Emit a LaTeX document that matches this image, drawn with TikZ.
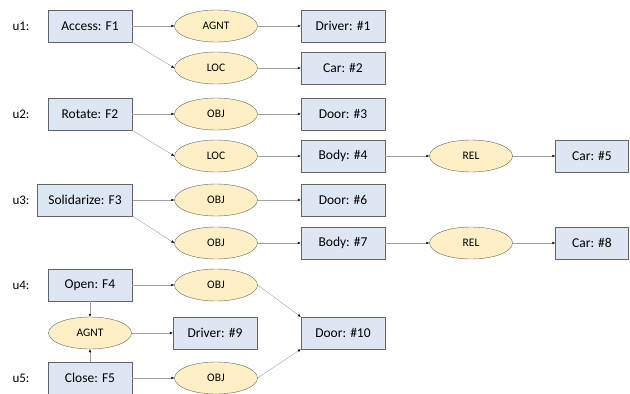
\documentclass[tikz,border=0pt]{standalone}
\usepackage{fontspec}
\setmainfont{Carlito}
\usetikzlibrary{arrows.meta,shapes.geometric}
\definecolor{boxblue}{RGB}{221,231,244}
\definecolor{relyellow}{RGB}{254,240,196}
\definecolor{rim}{RGB}{100,100,100}
\definecolor{wire}{RGB}{160,160,160}

\begin{document}
\begin{tikzpicture}[x=1pt,y=-1pt,
  concept/.style={draw=rim,fill=boxblue,minimum width=84pt,minimum height=32pt,
    inner sep=0pt,font=\fontsize{13.5}{15}\selectfont},
  rel/.style={ellipse,draw=rim,fill=relyellow,minimum width=83pt,minimum height=32pt,
    inner sep=0pt,font=\fontsize{11.5}{13}\selectfont},
  link/.style={draw=wire,-{Latex[length=3pt,width=2.6pt,color=black]}},
  tag/.style={font=\fontsize{13}{15}\selectfont}]
  \useasboundingbox (0,0) rectangle (630,394);
  % utterance labels
  \foreach \u/\y in {1/26,2/114,3/200,4/285,5/378} { \node[tag] (u\u) at (21,\y) {u\u:}; }
  % u1
  \node[concept] (f1) at (90,26) {Access: F1};
  \node[rel] (r1) at (216,26) {AGNT};
  \node[rel] (r2) at (216,68) {LOC};
  \node[concept] (c1) at (343,26) {Driver: \#1};
  \node[concept] (c2) at (343,68) {Car: \#2};
  % u2
  \node[concept] (f2) at (90,114) {Rotate: F2};
  \node[rel] (r3) at (216,114) {OBJ};
  \node[rel] (r4) at (216,156) {LOC};
  \node[concept] (c3) at (343,114) {Door: \#3};
  \node[concept] (c4) at (343,156) {Body: \#4};
  \node[rel] (r5) at (471,156) {REL};
  \node[concept,minimum width=73pt] (c5) at (592,156) {Car: \#5};
  % u3
  \node[concept,minimum width=95pt] (f3) at (85,200) {Solidarize: F3};
  \node[rel] (r6) at (216,200) {OBJ};
  \node[rel] (r7) at (216,243) {OBJ};
  \node[concept] (c6) at (343,200) {Door: \#6};
  \node[concept] (c7) at (343,243) {Body: \#7};
  \node[rel] (r8) at (471,243) {REL};
  \node[concept,minimum width=73pt] (c8) at (592,243) {Car: \#8};
  % u4 and u5
  \node[concept] (f4) at (90,285) {Open: F4};
  \node[rel] (r9) at (216,285) {OBJ};
  \node[rel] (r10) at (90,333) {AGNT};
  \node[concept] (c9) at (215,333) {Driver: \#9};
  \node[concept] (c10) at (343,333) {Door: \#10};
  \node[concept] (f5) at (90,378) {Close: F5};
  \node[rel] (r11) at (216,378) {OBJ};
  % straight links
  \foreach \a/\b in {f1/r1,r1/c1,r2/c2,f2/r3,r3/c3,r4/c4,c4/r5,r5/c5,
                     f3/r6,r6/c6,r7/c7,c7/r8,r8/c8,f4/r9,r10/c9,f5/r11}
    { \draw[link] (\a) -- (\b); }
  % slanted links
  \foreach \a/\b in {f1/r2,f2/r4,f3/r7} { \draw[link] (\a.south east) -- (\b.west); }
  \draw[link] (f4) -- (r10);
  \draw[link] (f5) -- (r10);
  \draw[link] (r9.east) -- (c10.north west);
  \draw[link] (r11.east) -- (c10.south west);
\end{tikzpicture}
\end{document}
